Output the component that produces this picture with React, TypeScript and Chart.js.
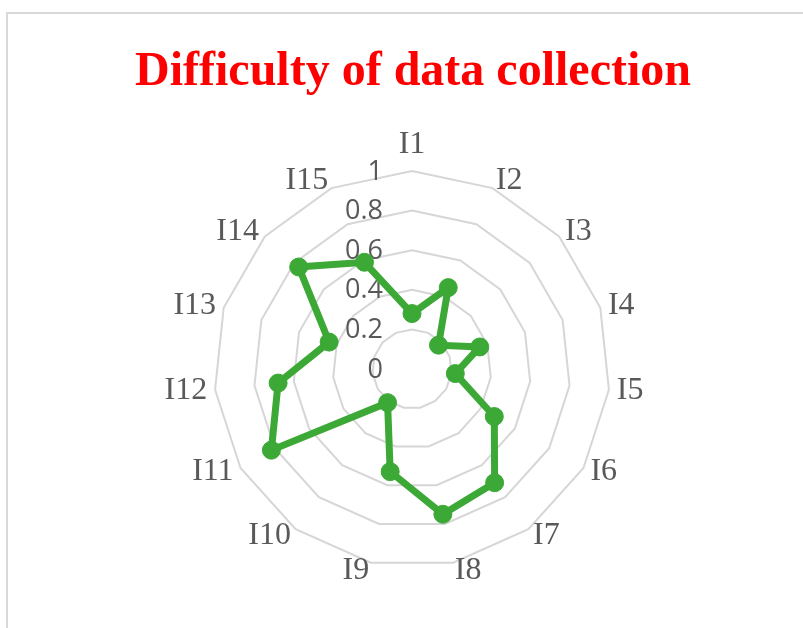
import React, { useEffect, useRef } from 'react';
import { Chart, registerables } from 'chart.js';

Chart.register(...registerables);

const categories = ['I1', 'I2', 'I3', 'I4', 'I5', 'I6', 'I7', 'I8', 'I9', 'I10', 'I11', 'I12', 'I13', 'I14', 'I15'];
const difficulty = [0.28, 0.45, 0.18, 0.36, 0.22, 0.48, 0.71, 0.75, 0.53, 0.21, 0.82, 0.68, 0.44, 0.77, 0.59];
const tickValues = [0, 0.2, 0.4, 0.6, 0.8, 1];
const tickLabels = ['0', '0.2', '0.4', '0.6', '0.8', '1'];
const chartTitle = 'Difficulty of data collection';

const GREEN = '#3CA836';
const TEXT = '#595959';
const TICK_FONT = '27px "Open Sans", sans-serif';
const CAT_FONT = '32px "Liberation Serif", "Times New Roman", serif';

const excelLabels = {
  id: 'excelLabels',
  beforeDatasetsDraw(chart: any) {
    const s = chart.scales.r;
    const ctx = chart.ctx;
    ctx.save();
    ctx.font = TICK_FONT;
    ctx.fillStyle = TEXT;
    ctx.textAlign = 'right';
    ctx.textBaseline = 'middle';
    tickValues.forEach((v, i) => {
      const d = s.getDistanceFromCenterForValue(v);
      ctx.fillText(tickLabels[i], s.xCenter - 29, s.yCenter - d + 1);
    });
    ctx.restore();
  },
  afterDraw(chart: any) {
    const s = chart.scales.r;
    const ctx = chart.ctx;
    ctx.save();
    ctx.font = CAT_FONT;
    ctx.fillStyle = TEXT;
    categories.forEach((label, i) => {
      const p = s.getPointPosition(i, s.drawingArea + 8);
      const dx = p.x - s.xCenter;
      if (Math.abs(dx) < 1) {
        ctx.textAlign = 'center';
        ctx.textBaseline = 'bottom';
        const q = s.getPointPosition(i, s.drawingArea + 10);
        ctx.fillText(label, q.x, q.y);
      } else {
        ctx.textAlign = dx > 0 ? 'left' : 'right';
        ctx.textBaseline = 'middle';
        ctx.fillText(label, p.x, p.y);
      }
    });

    // Title
    const cx = (chart.chartArea.left + chart.chartArea.right) / 2 + 1;
    const baseY = 85;
    ctx.textAlign = 'center';
    ctx.textBaseline = 'alphabetic';
    ctx.fillStyle = '#FF0000';
    ctx.strokeStyle = '#FF0000';
    ctx.font = 'bold 48px "Liberation Serif"';
    const wBold = ctx.measureText(chartTitle).width;
    if (wBold > 520) {
      ctx.fillText(chartTitle, cx, baseY);
    } else {
      ctx.font = '50px "Liberation Serif", "Times New Roman", serif';
      ctx.lineWidth = 2.2;
      ctx.lineJoin = 'round';
      ctx.fillText(chartTitle, cx, baseY);
      ctx.strokeText(chartTitle, cx, baseY);
    }
    ctx.restore();
  },
};

export default function App() {
  const ref = useRef<HTMLCanvasElement | null>(null);

  useEffect(() => {
    if (!ref.current) return;
    const chart = new Chart(ref.current, {
      type: 'radar',
      data: {
        labels: categories,
        datasets: [
          {
            label: chartTitle,
            data: difficulty,
            borderColor: GREEN,
            backgroundColor: GREEN,
            borderWidth: 7,
            fill: false,
            tension: 0,
            pointRadius: 9,
            pointBorderWidth: 1,
            pointBackgroundColor: GREEN,
            pointBorderColor: GREEN,
          },
        ],
      },
      options: {
        animation: false,
        responsive: false,
        maintainAspectRatio: false,
        layout: { padding: { left: 214, right: 193, top: 171, bottom: 61 } },
        plugins: {
          legend: { display: false },
          tooltip: { enabled: false },
          title: { display: false, text: chartTitle },
        },
        scales: {
          r: {
            min: 0,
            max: 1,
            ticks: { stepSize: 0.2, display: false },
            grid: { color: '#D6D6D6', lineWidth: 2 },
            angleLines: { display: false },
            pointLabels: { display: false },
          },
        },
      },
      plugins: [excelLabels],
    });
    let alive = true;
    const fonts: any = (document as any).fonts;
    if (fonts && fonts.load) {
      Promise.all([
        fonts.load('bold 48px "Liberation Serif"'),
        fonts.load('50px "Liberation Serif"'),
        fonts.load('27px "Open Sans"'),
      ])
        .then(() => {
          if (alive) chart.update();
        })
        .catch(() => {});
    }
    return () => {
      alive = false;
      chart.destroy();
    };
  }, []);

  return (
    <div style={{ position: 'absolute', left: 0, top: 0, width: 803, height: 628, background: '#fff', overflow: 'hidden' }}>
      <div
        style={{
          position: 'absolute',
          left: 6,
          top: 12,
          width: 820,
          height: 640,
          borderTop: '2px solid #D9D9D9',
          borderLeft: '2px solid #D9D9D9',
        }}
      />
      <canvas ref={ref} width={803} height={628} style={{ position: 'absolute', left: 0, top: 0, width: 803, height: 628 }} />
    </div>
  );
}
